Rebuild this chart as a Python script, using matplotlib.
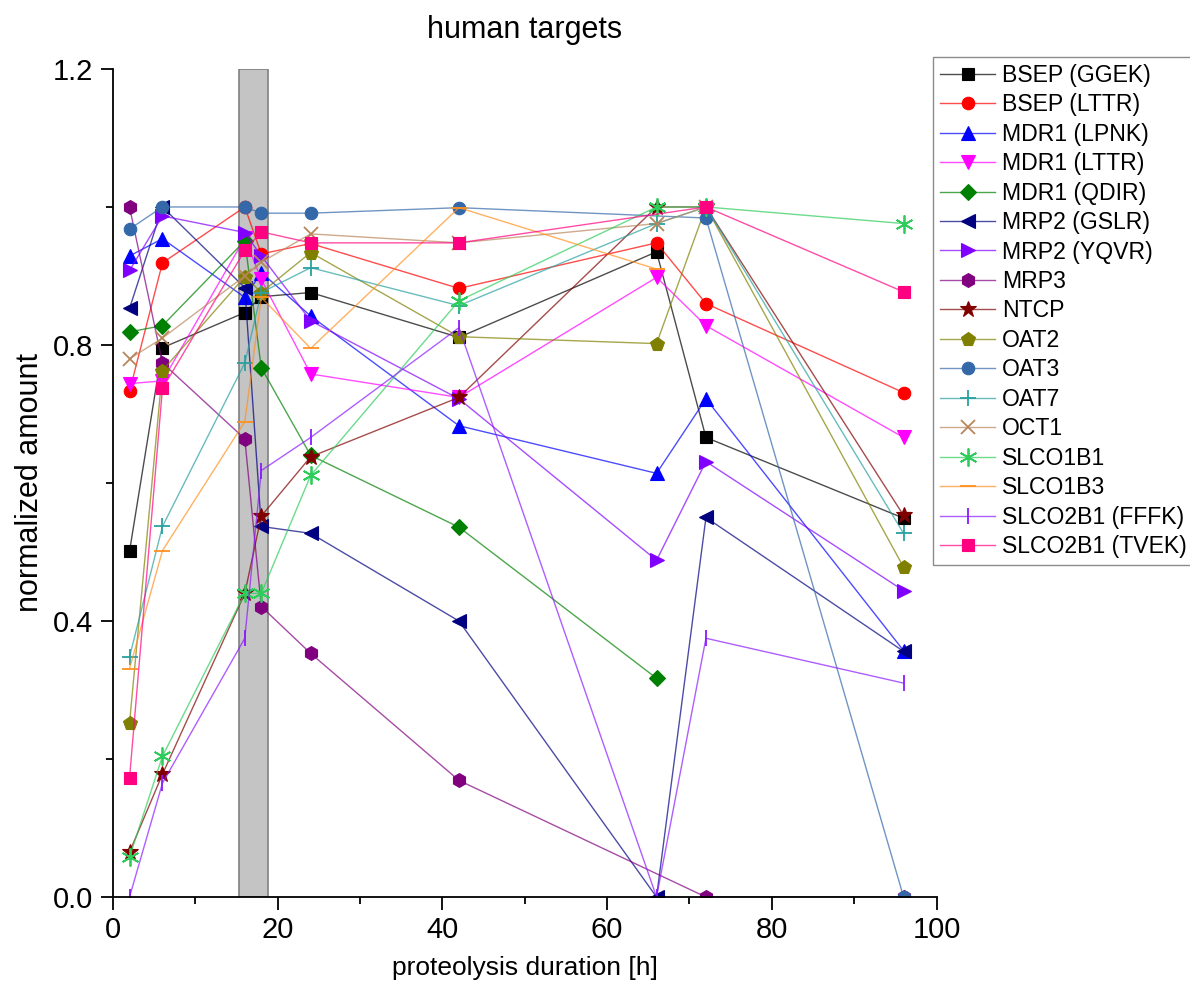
import numpy as np
import matplotlib
matplotlib.use("Agg")
import matplotlib.pyplot as plt
from matplotlib.colors import to_rgba

plt.rcParams['font.family'] = ['Liberation Sans', 'DejaVu Sans']

t_all = [2, 6, 16, 18, 24, 42, 66, 72, 96]
t_no66 = [2, 6, 16, 18, 24, 42, 72, 96]
t_to66 = [2, 6, 16, 18, 24, 42, 66]
t_oct1 = [2, 6, 16, 18, 24, 42, 66, 72]

bsep_ggek = [0.501, 0.796, 0.847, 0.870, 0.876, 0.811, 0.935, 0.666, 0.549]
bsep_lttr = [0.733, 0.919, 1.0, 0.932, 0.947, 0.882, 0.948, 0.860, 0.731]
mdr1_lpnk = [0.929, 0.954, 0.869, 0.905, 0.842, 0.683, 0.614, 0.722, 0.357]
mdr1_lttr = [0.744, 0.748, 0.955, 0.895, 0.758, 0.724, 0.898, 0.828, 0.666]
mdr1_qdir = [0.819, 0.828, 0.951, 0.767, 0.640, 0.536, 0.317]
mrp2_gslr = [0.853, 1.0, 0.883, 0.537, 0.527, 0.400, 0.0, 0.550, 0.356]
mrp2_yqvr = [0.908, 0.987, 0.963, 0.929, 0.835, 0.722, 0.488, 0.631, 0.444]
mrp3 = [1.0, 0.774, 0.664, 0.421, 0.353, 0.169, 0.0, 0.0]
ntcp = [0.065, 0.178, 0.44, 0.552, 0.638, 0.724, 1.0, 1.0, 0.553]
oat2 = [0.252, 0.763, 0.899, 0.876, 0.934, 0.812, 0.802, 1.0, 0.478]
oat3 = [0.968, 1.0, 1.0, 0.991, 0.991, 0.999, 0.984, 0.0]
oat7 = [0.348, 0.537, 0.774, 0.876, 0.912, 0.857, 0.976, 1.0, 0.527]
oct1 = [0.78, 0.81, 0.90, 0.92, 0.961, 0.948, 0.976, 1.0]
slco1b1 = [0.058, 0.204, 0.44, 0.44, 0.611, 0.864, 1.0, 1.0, 0.976]
slco1b3 = [0.331, 0.502, 0.689, 0.869, 0.795, 0.999, 0.91]
slco2b1_fffk = [0.0, 0.165, 0.375, 0.618, 0.666, 0.825, 0.0, 0.375, 0.31]
slco2b1_tvek = [0.172, 0.737, 0.937, 0.964, 0.948, 0.948, 1.0, 0.877]

# label, x, y, color, marker, markersize
series = [
    ("BSEP (GGEK)", t_all, bsep_ggek, "#000000", "s", 8),
    ("BSEP (LTTR)", t_all, bsep_lttr, "#FF0000", "o", 9),
    ("MDR1 (LPNK)", t_all, mdr1_lpnk, "#0000FF", "^", 10),
    ("MDR1 (LTTR)", t_all, mdr1_lttr, "#FF00FF", "v", 10),
    ("MDR1 (QDIR)", t_to66, mdr1_qdir, "#008000", "D", 8),
    ("MRP2 (GSLR)", t_all, mrp2_gslr, "#000080", "<", 10),
    ("MRP2 (YQVR)", t_all, mrp2_yqvr, "#8000FF", ">", 10),
    ("MRP3", t_no66, mrp3, "#800080", "h", 10),
    ("NTCP", t_all, ntcp, "#800000", "*", 12),
    ("OAT2", t_all, oat2, "#808000", "p", 10),
    ("OAT3", t_no66, oat3, "#3468A8", "o", 9),
    ("OAT7", t_all, oat7, "#2AA0A0", "+", 11),
    ("OCT1", t_oct1, oct1, "#B8865B", "x", 10),
    ("SLCO1B1", t_all, slco1b1, "#2ECC5A", (6, 2, 0), 13),
    ("SLCO1B3", t_to66, slco1b3, "#FF9020", "_", 11),
    ("SLCO2B1 (FFFK)", t_all, slco2b1_fffk, "#8C1AFF", "|", 11),
    ("SLCO2B1 (TVEK)", t_no66, slco2b1_tvek, "#FF0080", "s", 8),
]

fig = plt.figure(figsize=(11.9, 9.81), dpi=100)
ax = fig.add_axes([0.095, 0.0856, 0.692, 0.8441])

ax.axvspan(15.25, 18.85, ymin=0, ymax=1, facecolor="#C4C4C4", edgecolor="#808080", linewidth=1.2, zorder=0)

for label, x, y, c, m, ms in series:
    mew = 1.3 if m in ["+", "x", "|", "_", (6, 2, 0)] else 0.8
    ax.plot(x, y, color=to_rgba(c, 0.7), linewidth=1.0, marker=m, markersize=ms,
            markerfacecolor=c, markeredgecolor=c, markeredgewidth=mew, label=label)

ax.set_xlim(0, 100)
ax.set_ylim(0, 1.2)
ax.set_xticks([0, 20, 40, 60, 80, 100])
ax.set_xticks([10, 30, 50, 70, 90], minor=True)
ax.set_yticks([0.0, 0.4, 0.8, 1.2])
ax.set_yticks([0.2, 0.6, 1.0], minor=True)
ax.set_yticklabels(["0.0", "0.4", "0.8", "1.2"])
ax.tick_params(which="major", direction="out", length=9, width=1.3, labelsize=21, pad=5)
ax.tick_params(which="minor", direction="out", length=5, width=1.3)
ax.spines["top"].set_visible(False)
ax.spines["right"].set_visible(False)
ax.spines["left"].set_linewidth(1.3)
ax.spines["bottom"].set_linewidth(1.3)

ax.set_title("human targets", fontsize=22, pad=22)
ax.set_xlabel("proteolysis duration [h]", fontsize=19, labelpad=8)
ax.set_ylabel("normalized amount", fontsize=22, labelpad=6)

leg = ax.legend(loc="upper left", bbox_to_anchor=(0.784, 0.942), bbox_transform=fig.transFigure,
                fontsize=16.6, frameon=True, fancybox=False, borderaxespad=0,
                handlelength=2.4, handletextpad=0.3, labelspacing=0.28, borderpad=0.3)
leg.get_frame().set_edgecolor("#707070")
leg.get_frame().set_linewidth(1.0)

plt.savefig("out.png", dpi=100)
